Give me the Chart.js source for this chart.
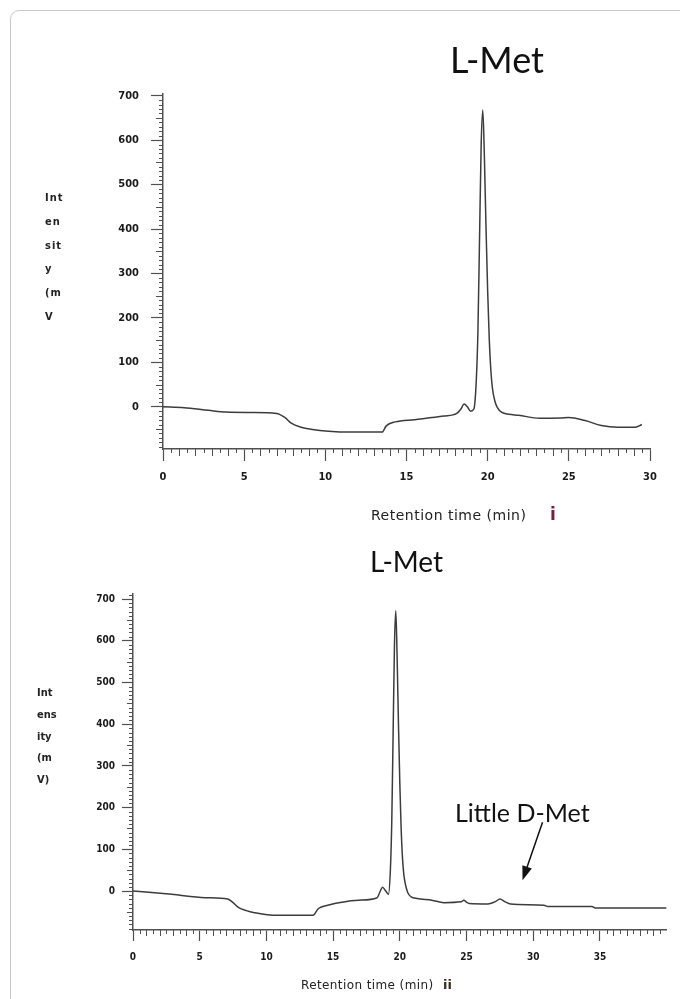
<!DOCTYPE html>
<html>
<head>
<meta charset="utf-8">
<script src="https://cdn.jsdelivr.net/npm/chart.js@4.4.0/dist/chart.umd.min.js"></script>
<style>
  body { margin: 0; background: #fff; width: 680px; height: 999px; position: relative; overflow: hidden; }
  .frame { position: absolute; left: 10px; top: 10px; width: 720px; height: 1040px; border: 1px solid #c9c9c9; border-radius: 9px; }
  canvas { position: absolute; left: 0; }
  .txt { position: absolute; white-space: nowrap; line-height: 1; color: #111; }
  .title { font-family: Lato, sans-serif; }
  .ylab { font-family: 'DejaVu Sans Condensed', 'DejaVu Sans', sans-serif; font-weight: bold; color: #222; }
  .xlab { font-family: 'DejaVu Sans', sans-serif; color: #222; }
</style>
</head>
<body>
<div class="frame"></div>

<canvas id="chartI" width="680" height="530" style="top:0"></canvas>
<canvas id="chartII" width="680" height="469" style="top:530px"></canvas>

<div class="txt title" style="left:450px; top:41px; font-size:36px;">L-Met</div>
<div class="txt ylab" style="left:45px; top:186px; font-size:11px; line-height:23.8px; letter-spacing:1px;">Int<br>en<br>sit<br>y<br>(m<br>V</div>
<div class="txt xlab" style="left:371px; top:508px; font-size:14px; letter-spacing:0.5px;">Retention time (min)</div>
<div class="txt" style="left:550px; top:506px; font-size:17px; font-weight:bold; font-family:'DejaVu Sans',sans-serif; color:#7a1f3a;">i</div>

<div class="txt title" style="left:370px; top:547px; font-size:28px;">L-Met</div>
<div class="txt title" style="left:455px; top:800px; font-size:25px;">Little D-Met</div>
<div class="txt ylab" style="left:37px; top:682px; font-size:11px; line-height:21.8px;">Int<br>ens<br>ity<br>(m<br>V)</div>
<div class="txt xlab" style="left:301px; top:979px; font-size:12px; letter-spacing:0.4px;">Retention time (min)</div>
<div class="txt" style="left:443px; top:978px; font-size:13px; font-weight:bold; font-family:'DejaVu Sans',sans-serif; color:#3b2f1a;">ii</div>

<script>
// chromatogram i (L-Met standard), retention time in min / intensity in mV
const timeI = [0, 1.3, 2.8, 3.9, 5.4, 7.0, 7.5, 7.9, 8.5, 9.2, 10.2, 11.5, 13.5, 13.75, 14.3, 15.5, 17.3, 18.1,
  18.35, 18.55, 18.75, 18.95, 19.15, 19.3, 19.4, 19.5, 19.6, 19.7, 19.8, 19.9, 20.0, 20.1, 20.2, 20.3, 20.45,
  20.6, 20.85, 21.3, 21.9, 23.2, 24.5, 25.0, 26.0, 27.0, 28.0, 29.1, 29.5]
const intensityI = [0, -2, -8, -12, -13, -15, -24, -37, -46, -51, -55, -57, -57, -43, -34, -29, -21, -15,
  -5, 6, 0, -10, -5, 60, 170, 380, 590, 668, 560, 400, 260, 150, 80, 40, 12,
  -2, -12, -17, -19, -26, -25, -24, -31, -42, -46, -46, -40]

// chromatogram ii (sample with a little D-Met)
const timeII = [0, 2.9, 5.4, 7.1, 7.5, 7.9, 8.5, 9.1, 10.5, 13.5, 13.9, 14.6, 16.9, 18.3, 18.5, 18.7, 18.95,
  19.15, 19.3, 19.4, 19.5, 19.6, 19.7, 19.8, 19.9, 20.0, 20.1, 20.2, 20.3, 20.45, 20.6, 20.85, 21.3, 22.4,
  23.3, 24.6, 24.8, 25.0, 25.2, 26.6, 27.2, 27.5, 27.9, 28.3, 30.8, 31.1, 34.4, 34.7, 40.0]
const intensityII = [0, -8, -16, -19, -28, -39, -47, -52, -58, -58, -42, -34, -22, -16, -3, 9, 0,
  -8, 55, 170, 380, 590, 672, 560, 400, 260, 150, 80, 40, 12, -4, -14, -18, -22,
  -28, -26, -22, -27, -30, -31, -25, -19, -26, -31, -34, -37, -37, -41, -41]

const xTicksI = [0, 5, 10, 15, 20, 25, 30]
const xTicksII = [0, 5, 10, 15, 20, 25, 30, 35]
const yTicks = [0, 100, 200, 300, 400, 500, 600, 700]

// arrow pointing at the little D-Met bump (time, intensity)
const arrowStart = [30.7, 165]
const arrowEnd = [29.2, 26]

const axisColor = '#505050'

// small ticks between the labelled ones
const minorTicks = {
  id: 'minorTicks',
  afterDraw(chart, args, o) {
    const { ctx, chartArea } = chart
    const x = chart.scales.x
    const y = chart.scales.y
    ctx.save()
    ctx.strokeStyle = axisColor
    ctx.lineWidth = 1
    ctx.beginPath()
    for (let i = Math.ceil(y.min / 10); i * 10 <= y.max; i++) {
      const v = i * 10
      if (v % 100 === 0) continue
      const len = v % 50 === 0 ? o.yMid : o.ySmall
      const py = Math.round(y.getPixelForValue(v)) + 0.5
      ctx.moveTo(chartArea.left - len, py)
      ctx.lineTo(chartArea.left, py)
    }
    for (let i = 1; i * 0.5 <= x.max; i++) {
      const v = i * 0.5
      if (v % 5 === 0) continue
      const len = v % 1 === 0 ? o.xMid : o.xSmall
      const px = Math.round(x.getPixelForValue(v)) + 0.5
      ctx.moveTo(px, chartArea.bottom)
      ctx.lineTo(px, chartArea.bottom + len)
    }
    ctx.stroke()
    ctx.restore()
  }
}

const arrowPlugin = {
  id: 'arrowNote',
  afterDraw(chart, args, o) {
    if (!o.show) return
    const x = chart.scales.x
    const y = chart.scales.y
    const x1 = x.getPixelForValue(arrowStart[0]), y1 = y.getPixelForValue(arrowStart[1])
    const x2 = x.getPixelForValue(arrowEnd[0]), y2 = y.getPixelForValue(arrowEnd[1])
    const ang = Math.atan2(y2 - y1, x2 - x1)
    const ctx = chart.ctx
    ctx.save()
    ctx.strokeStyle = '#111'
    ctx.fillStyle = '#111'
    ctx.lineWidth = 1.5
    ctx.beginPath()
    ctx.moveTo(x1, y1)
    ctx.lineTo(x2 - 10 * Math.cos(ang), y2 - 10 * Math.sin(ang))
    ctx.stroke()
    ctx.beginPath()
    ctx.moveTo(x2, y2)
    ctx.lineTo(x2 - 14 * Math.cos(ang) + 5 * Math.sin(ang), y2 - 14 * Math.sin(ang) - 5 * Math.cos(ang))
    ctx.lineTo(x2 - 14 * Math.cos(ang) - 5 * Math.sin(ang), y2 - 14 * Math.sin(ang) + 5 * Math.cos(ang))
    ctx.closePath()
    ctx.fill()
    ctx.restore()
  }
}

function makeChart(id, times, values, cfg) {
  const ctx = document.getElementById(id).getContext('2d')
  return new Chart(ctx, {
    type: 'line',
    data: {
      datasets: [{
        data: times.map((t, i) => ({ x: t, y: values[i] })),
        borderColor: '#3c3c3c',
        borderWidth: 1.5,
        pointRadius: 0,
        cubicInterpolationMode: 'monotone',
        fill: false,
      }],
    },
    options: {
      responsive: false,
      animation: false,
      layout: { padding: cfg.padding },
      plugins: {
        legend: { display: false },
        tooltip: { enabled: false },
        minorTicks: cfg.minor,
        arrowNote: { show: cfg.arrow },
      },
      scales: {
        x: {
          type: 'linear',
          min: 0,
          max: cfg.xMax,
          afterBuildTicks: (s) => { s.ticks = cfg.xTicks.map((v) => ({ value: v })) },
          afterFit: (s) => { s.height = 40 },
          grid: { drawOnChartArea: false, tickLength: cfg.tickLen, color: axisColor, tickWidth: 1.2 },
          border: { color: axisColor, width: 1.5 },
          ticks: {
            autoSkip: false, maxRotation: 0, padding: 10, color: '#1a1a1a',
            font: { family: "'DejaVu Sans Condensed', 'DejaVu Sans', sans-serif", size: cfg.fontSize, weight: 'bold' },
          },
        },
        y: {
          min: cfg.yMin,
          max: cfg.yMax,
          afterBuildTicks: (s) => { s.ticks = yTicks.map((v) => ({ value: v })) },
          afterFit: (s) => { s.width = 60 },
          grid: { drawOnChartArea: false, tickLength: cfg.tickLen, color: axisColor, tickWidth: 1.2 },
          border: { color: axisColor, width: 1.5 },
          ticks: {
            padding: cfg.yPad, color: '#1a1a1a',
            font: { family: "'DejaVu Sans Condensed', 'DejaVu Sans', sans-serif", size: cfg.fontSize, weight: 'bold' },
          },
        },
      },
    },
    plugins: [minorTicks, arrowPlugin],
  })
}

makeChart('chartI', timeI, intensityI, {
  padding: { left: 103, right: 30, top: 93.5, bottom: 41 },
  xMax: 30, xTicks: xTicksI, yMin: -95, yMax: 705,
  tickLen: 12, yPad: 12, fontSize: 11,
  minor: { yMid: 7, ySmall: 4, xMid: 7, xSmall: 4 },
  arrow: false,
})

makeChart('chartII', timeII, intensityII, {
  padding: { left: 73, right: 13.4, top: 63.3, bottom: 29 },
  xMax: 40, xTicks: xTicksII, yMin: -93.5, yMax: 714,
  tickLen: 11, yPad: 7, fontSize: 10,
  minor: { yMid: 6, ySmall: 4, xMid: 6, xSmall: 4 },
  arrow: true,
})
</script>
</body>
</html>
